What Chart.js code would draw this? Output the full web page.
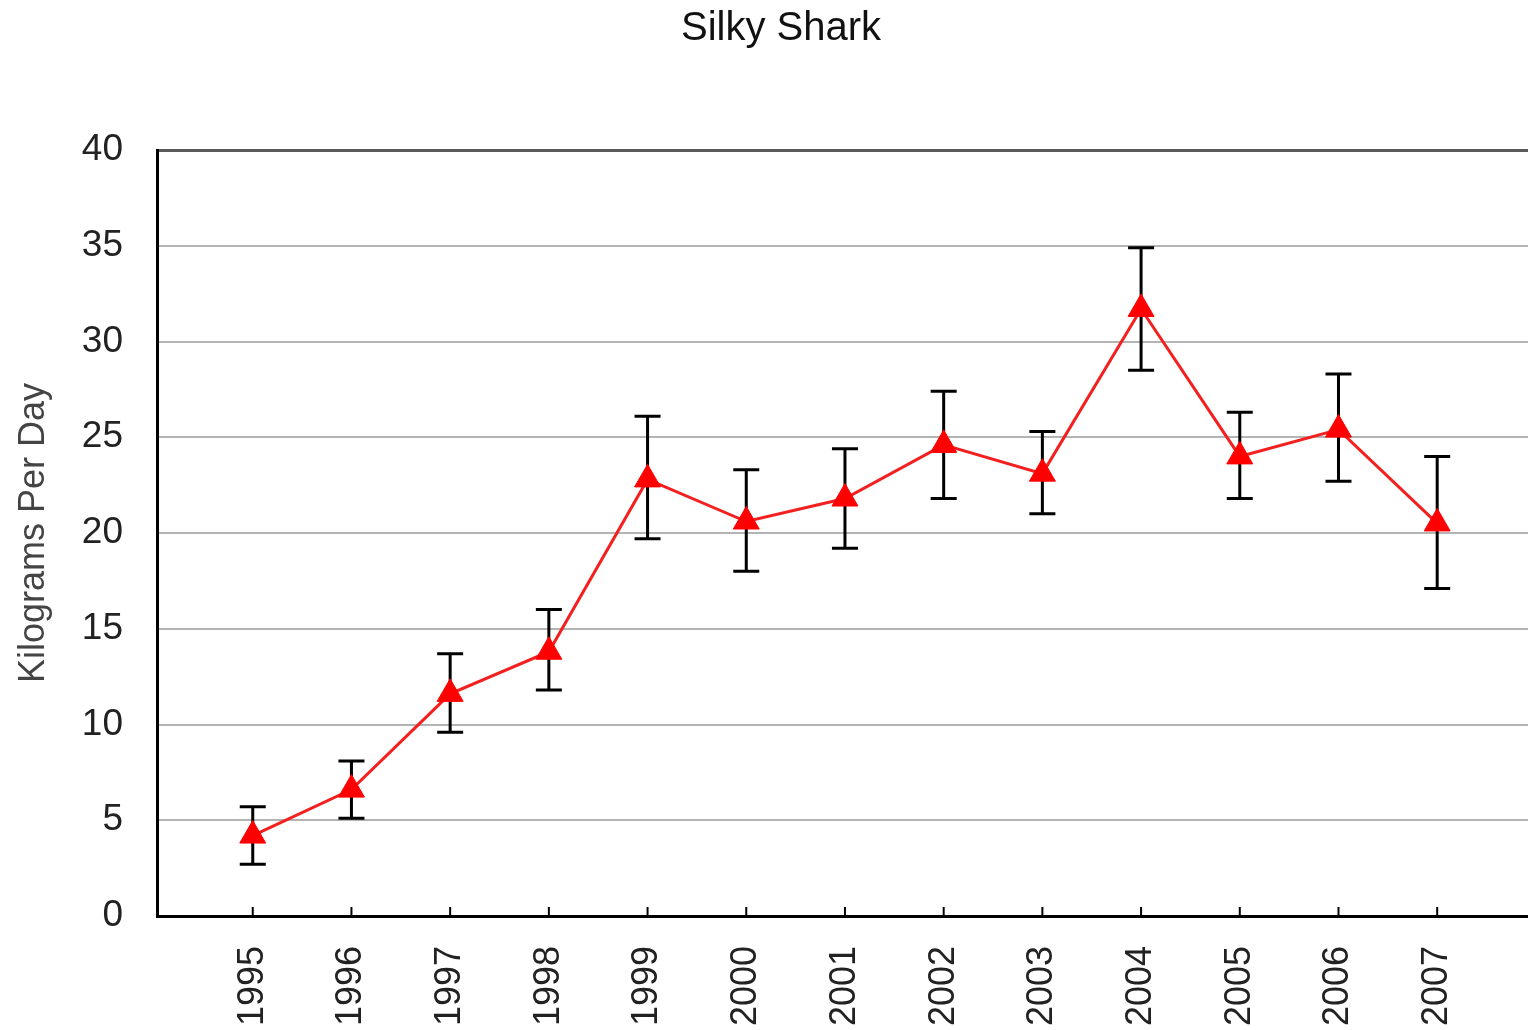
<!DOCTYPE html>
<html>
<head>
<meta charset="utf-8">
<script src="https://cdn.jsdelivr.net/npm/chart.js@4"></script>
<style>
  html, body { margin: 0; padding: 0; background: #ffffff; overflow: hidden; }
  #wrap { width: 1528px; height: 1030px; }
  canvas { display: block; }
</style>
</head>
<body>
<div id="wrap"><canvas id="c" width="1528" height="1030"></canvas></div>
<script>
const chartTitle = 'Silky Shark';
const yAxisTitle = 'Kilograms Per Day';
const years = [1995, 1996, 1997, 1998, 1999, 2000, 2001, 2002, 2003, 2004, 2005, 2006, 2007];
const values = [4.2, 6.6, 11.6, 13.8, 22.8, 20.6, 21.8, 24.6, 23.1, 31.7, 24.0, 25.4, 20.5];
const upper  = [5.7, 8.1, 13.7, 16.0, 26.1, 23.3, 24.4, 27.4, 25.3, 34.9, 26.3, 28.3, 24.0];
const lower  = [2.7, 5.1, 9.6, 11.8, 19.7, 18.0, 19.2, 21.8, 21.0, 28.5, 21.8, 22.7, 17.1];
const yTicks = [0, 5, 10, 15, 20, 25, 30, 35, 40];

const FONT = '"Liberation Sans", Arial, sans-serif';

const errorBars = {
  id: 'errorBars',
  beforeDatasetsDraw(chart) {
    const ctx = chart.ctx, xs = chart.scales.x, ys = chart.scales.y;
    ctx.save();
    ctx.strokeStyle = '#000000';
    ctx.lineWidth = 3;
    ctx.lineCap = 'butt';
    years.forEach((yr, i) => {
      const x = xs.getPixelForValue(yr);
      const yt = ys.getPixelForValue(upper[i]);
      const yb = ys.getPixelForValue(lower[i]);
      ctx.beginPath();
      ctx.moveTo(x, yt); ctx.lineTo(x, yb);
      ctx.moveTo(x - 13, yt); ctx.lineTo(x + 13, yt);
      ctx.moveTo(x - 13, yb); ctx.lineTo(x + 13, yb);
      ctx.stroke();
    });
    ctx.restore();
  },
  afterDraw(chart) {
    const ctx = chart.ctx, xs = chart.scales.x;
    const bottom = chart.chartArea.bottom;
    ctx.save();
    ctx.strokeStyle = '#000000';
    ctx.lineWidth = 2;
    years.forEach((yr) => {
      const x = xs.getPixelForValue(yr);
      ctx.beginPath();
      ctx.moveTo(x, bottom - 9); ctx.lineTo(x, bottom);
      ctx.stroke();
    });
    ctx.fillStyle = '#111111';
    ctx.font = '40px ' + FONT;
    ctx.textAlign = 'center';
    ctx.textBaseline = 'middle';
    ctx.fillText(chartTitle, 781, 29);
    ctx.restore();
  }
};

new Chart(document.getElementById('c'), {
  type: 'line',
  data: {
    datasets: [{
      data: years.map((yr, i) => ({ x: yr, y: values[i] })),
      borderColor: '#f42020',
      borderWidth: 3,
      pointStyle: 'triangle',
      pointRadius: 15,
      pointBackgroundColor: '#ff0000',
      pointBorderColor: '#ff0000',
      pointBorderWidth: 1,
      tension: 0,
      fill: false
    }]
  },
  options: {
    responsive: false,
    animation: false,
    devicePixelRatio: 1,
    layout: { autoPadding: false, padding: { top: 150, right: 0, left: 0, bottom: 0 } },
    plugins: { legend: { display: false }, title: { display: false }, tooltip: { enabled: false } },
    scales: {
      x: {
        type: 'linear',
        min: 1994.03,
        max: 2007.92,
        afterBuildTicks(scale) { scale.ticks = years.map(v => ({ value: v })); },
        afterFit(scale) { scale.height = 114; scale.paddingLeft = 0; scale.paddingRight = 0; },
        grid: { display: false, drawTicks: false },
        border: { display: true, color: '#000000', width: 3 },
        ticks: {
          minRotation: 90, maxRotation: 90, padding: 30,
          color: '#222222',
          font: { family: FONT, size: 36 },
          callback: (v) => String(v)
        }
      },
      y: {
        min: 0, max: 40,
        afterBuildTicks(scale) { scale.ticks = yTicks.map(v => ({ value: v })); },
        afterFit(scale) { scale.width = 157; },
        grid: {
          drawTicks: false,
          color: (c) => (c.tick && c.tick.value === 40) ? '#5a5a5a' : '#b4b4b4',
          lineWidth: (c) => (c.tick && c.tick.value === 40) ? 3 : 2
        },
        border: { display: true, color: '#000000', width: 3 },
        ticks: {
          padding: 34,
          color: '#222222',
          font: { family: FONT, size: 37 },
          callback: (v) => String(v)
        },
        title: {
          display: true,
          text: yAxisTitle,
          color: '#444444',
          font: { family: FONT, size: 36 },
          padding: { top: 12, bottom: 0 }
        }
      }
    }
  },
  plugins: [errorBars]
});
</script>
</body>
</html>
